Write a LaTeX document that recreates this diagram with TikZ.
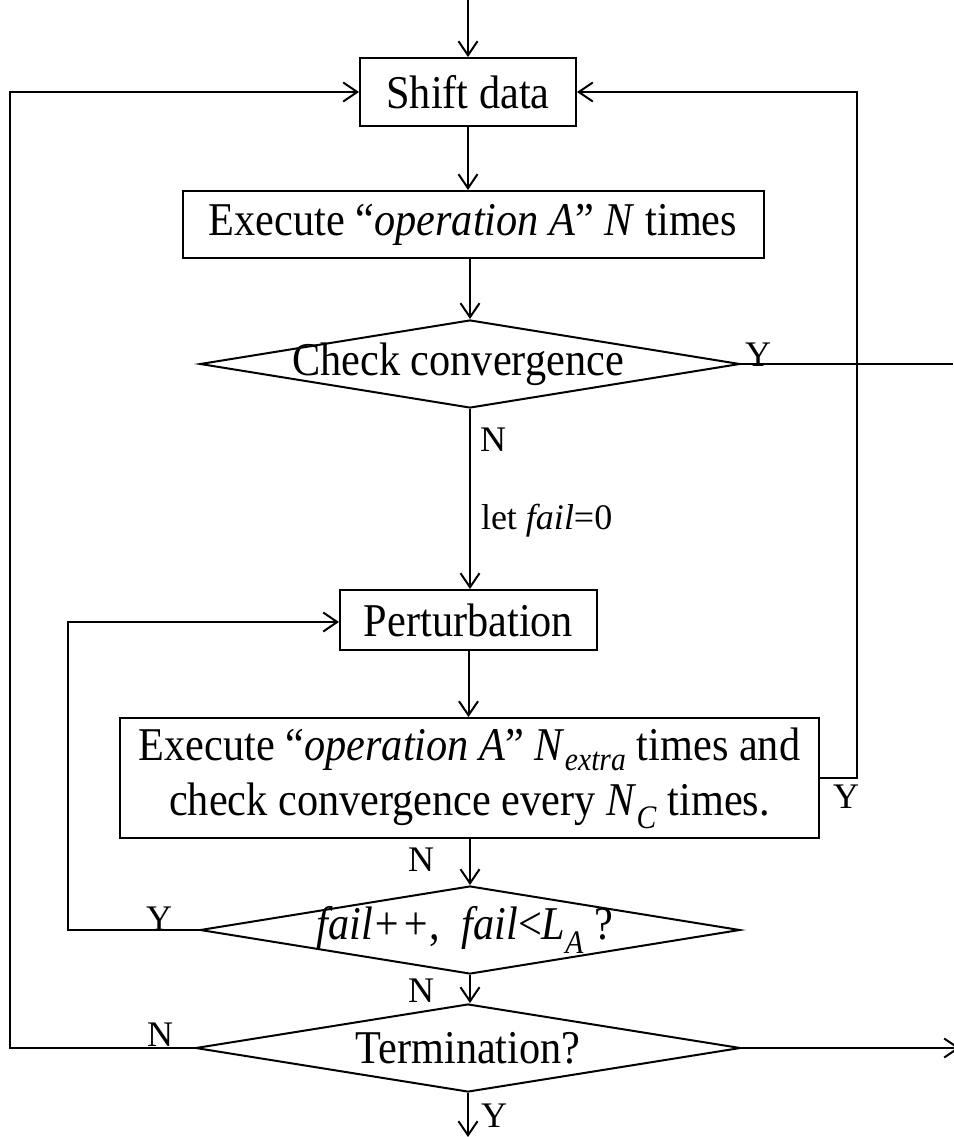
\documentclass[tikz,border=0pt]{standalone}
\usepackage{fontspec}
\setmainfont{Liberation Serif}[FakeStretch=0.9]
\newfontfamily\tagfont{Liberation Serif}
\usetikzlibrary{arrows.meta,shapes.geometric}

\begin{document}
\begin{tikzpicture}[x=1pt,y=-1pt,
  line width=2pt,
  every node/.style={font=\fontsize{47}{55}\selectfont},
  procbox/.style={draw,rectangle,inner sep=0pt,align=center},
  decision/.style={draw,diamond,inner sep=0pt,minimum width=540pt,minimum height=88pt},
  tag/.style={font=\tagfont\fontsize{36}{40}\selectfont,inner sep=0pt},
  flow/.style={-{Straight Barb[length=14pt,width=19pt,line width=2pt]}},
]
\useasboundingbox (0,0) rectangle (953,1137);

% process boxes
\node[procbox,minimum width=216pt,minimum height=68pt] (shift) at (468,92) {Shift data};
\node[procbox,minimum width=581pt,minimum height=67pt] (exec) at (473,224.5)
  {Execute “\textit{operation A}” \textit{N} times};
\node[procbox,minimum width=257pt,minimum height=60pt] (pert) at (468.5,620) {Perturbation};
\node[procbox,minimum width=699pt,minimum height=120pt] (extra) at (469.5,778)
  {Execute “\textit{operation A}” \textit{N}\textsubscript{\textit{extra}} times and\\
   check convergence every \textit{N}\textsubscript{\textit{C}} times.};

% decisions
\node[decision,label={[xshift=-12pt]center:Check convergence}] (conv) at (470,364) {};
\node[decision,label={[xshift=-5pt]center:\textit{fail++},\ \ \textit{fail}<\textit{L}\textsubscript{\textit{A}} ?}] (fail) at (470,930) {};
\node[decision,minimum width=545pt,label={center:Termination?}] (term) at (468,1048) {};

% loose ends
\coordinate (start) at (468,0);
\coordinate (stop) at (468,1137);
\coordinate (convout) at (953,364);
\coordinate (termout) at (960,1048);

% main flow
\draw[flow] (start) -- (shift.north);
\draw[flow] (shift.south) -- (shift.south |- exec.north);
\draw[flow] (exec.south -| conv.north) -- (conv.north);
\draw[flow] (conv.south) -- (conv.south |- pert.north);
\draw[flow] (pert.south) -- (pert.south |- extra.north);
\draw[flow] (extra.south -| fail.north) -- (fail.north);
\draw[flow] (fail.south) -- (fail.south |- term.north);
\draw[flow] (term.south) -- (term.south |- stop);

% branches
\draw (conv.east) -- (convout);
\draw[flow] (extra.east) -- (857,778) -- (857,92) -- (shift.east);
\draw[flow] (fail.west) -- (68,930) -- (68,622) -- (pert.west |- 0,622);
\draw[flow] (term.west) -- (10,1048) -- (10,92) -- (shift.west);
\draw[flow] (term.east) -- (termout);

% branch labels
\node[tag] (nconv) at (493,440) {N};
\node[tag,anchor=west] (reset) at (480,521) {let \textit{fail}=0};
\node[tag] (yconv) at (758,355) {Y};
\node[tag] (yextra) at (846,797) {Y};
\node[tag] (nextra) at (421,860) {N};
\node[tag] (yfail) at (159,919) {Y};
\node[tag] (nfail) at (421,991) {N};
\node[tag] (nterm) at (160,1035) {N};
\node[tag] (yterm) at (494,1116) {Y};
\end{tikzpicture}
\end{document}
